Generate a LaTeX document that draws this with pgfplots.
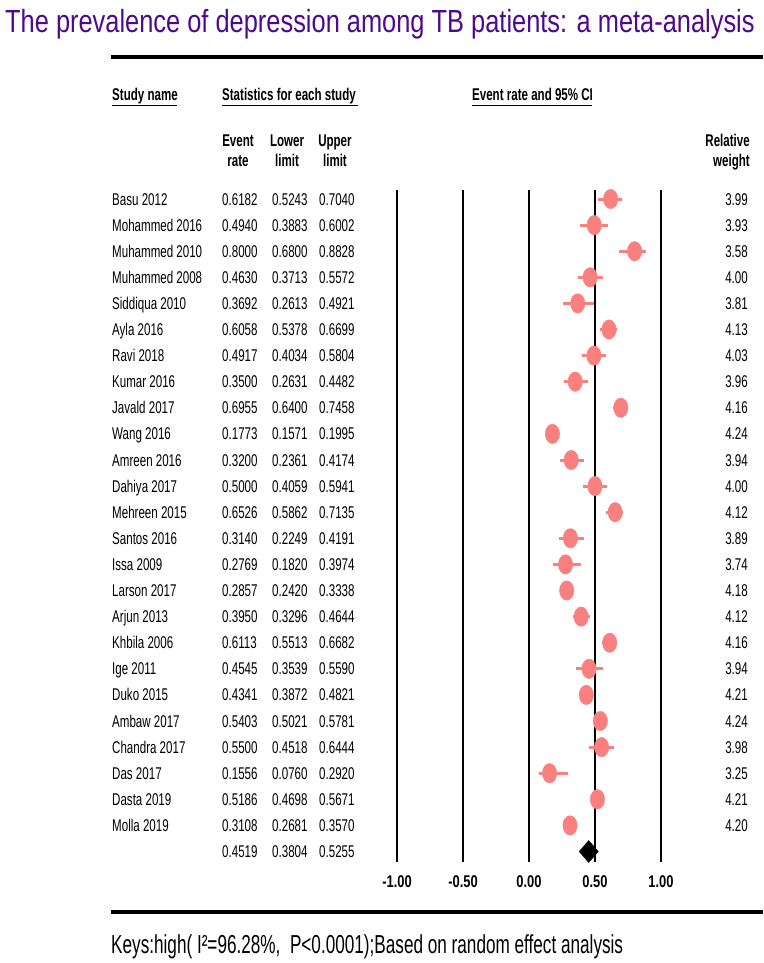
\documentclass[border=0pt]{standalone}
\usepackage{fontspec}
\setmainfont{Liberation Sans}[FakeStretch=0.68]
\newfontfamily\titlefont{Liberation Sans}[FakeStretch=0.794]
\newfontfamily\footfont{Liberation Sans}[FakeStretch=0.66]
\newfontfamily\tickfont{Liberation Sans}[FakeStretch=0.76]
\usepackage{pgfplots}
\usepackage{pgfplotstable}
\pgfplotsset{compat=1.18}

\definecolor{dotpink}{RGB}{250,128,128}
\definecolor{titlepurple}{RGB}{78,10,140}

% row, study, event rate, lower, upper, relative weight
\pgfplotstableread[col sep=comma]{
row,name,er,lo,hi,w
1,Basu 2012,0.6182,0.5243,0.7040,3.99
2,Mohammed 2016,0.4940,0.3883,0.6002,3.93
3,Muhammed 2010,0.8000,0.6800,0.8828,3.58
4,Muhammed 2008,0.4630,0.3713,0.5572,4.00
5,Siddiqua 2010,0.3692,0.2613,0.4921,3.81
6,Ayla 2016,0.6058,0.5378,0.6699,4.13
7,Ravi 2018,0.4917,0.4034,0.5804,4.03
8,Kumar 2016,0.3500,0.2631,0.4482,3.96
9,Javald 2017,0.6955,0.6400,0.7458,4.16
10,Wang 2016,0.1773,0.1571,0.1995,4.24
11,Amreen 2016,0.3200,0.2361,0.4174,3.94
12,Dahiya 2017,0.5000,0.4059,0.5941,4.00
13,Mehreen 2015,0.6526,0.5862,0.7135,4.12
14,Santos 2016,0.3140,0.2249,0.4191,3.89
15,Issa 2009,0.2769,0.1820,0.3974,3.74
16,Larson 2017,0.2857,0.2420,0.3338,4.18
17,Arjun 2013,0.3950,0.3296,0.4644,4.12
18,Khbila 2006,0.6113,0.5513,0.6682,4.16
19,Ige 2011,0.4545,0.3539,0.5590,3.94
20,Duko 2015,0.4341,0.3872,0.4821,4.21
21,Ambaw 2017,0.5403,0.5021,0.5781,4.24
22,Chandra 2017,0.5500,0.4518,0.6444,3.98
23,Das 2017,0.1556,0.0760,0.2920,3.25
24,Dasta 2019,0.5186,0.4698,0.5671,4.21
25,Molla 2019,0.3108,0.2681,0.3570,4.20
}\studies

\begin{document}
\begin{tikzpicture}[font=\fontsize{17}{21}\selectfont]
\begin{axis}[
 width=763pt, height=963pt, scale only axis,
 xmin=-4.00758, xmax=1.77273,
 ymin=-6.6245, ymax=30.272, y dir=reverse,
 axis lines=none, clip=false,
 txt/.style={draw=none, mark=none, nodes near coords, point meta=explicit symbolic,
   every node near coord/.style={inner sep=0pt, text height=12pt, text depth=0pt, black, #1}},
]
% reference lines
\pgfplotsinvokeforeach{-1,-0.5,0,0.5,1}{
 \addplot[black, line width=1.6pt] coordinates {(#1,0.655) (#1,26.405)};
}
% confidence intervals
\addplot[draw=none, mark=none, error bars/.cd, x dir=both, x explicit, error mark=none,
 error bar style={draw=dotpink, line width=3pt}]
 table[x=er, y=row, x error plus expr=\thisrow{hi}-\thisrow{er},
  x error minus expr=\thisrow{er}-\thisrow{lo}] {\studies};
% point estimates
\addplot[only marks, mark=*, mark size=7.2pt,
 mark options={draw=dotpink, fill=dotpink, yscale=1.35}] table[x=er, y=row] {\studies};
% pooled estimate
\addplot[fill=black, draw=black] coordinates {(0.3804,26) (0.4519,25.58) (0.5255,26) (0.4519,26.42)} -- cycle;

% table columns
\addplot[txt={anchor=west}] table[x expr=-3.159, y=row, meta=name] {\studies};
\addplot[txt={anchor=west}] table[x expr=-2.3258, y=row, meta=er] {\studies};
\addplot[txt={anchor=west}] table[x expr=-1.947, y=row, meta=lo] {\studies};
\addplot[txt={anchor=west}] table[x expr=-1.591, y=row, meta=hi] {\studies};
\addplot[txt={anchor=east}] table[x expr=1.659, y=row, meta=w] {\studies};
\addplot[txt={anchor=west}] coordinates {(-2.3258,26) [0.4519] (-1.947,26) [0.3804] (-1.591,26) [0.5255]};

% rules
\addplot[black, line width=3.5pt] coordinates {(-3.1667,-4.441) (1.7727,-4.441)};
\addplot[black, line width=3.5pt] coordinates {(-3.1667,28.315) (1.7727,28.315)};
\addplot[black, line width=0.8pt] coordinates {(-3.159,-2.601) (-2.667,-2.601)};
\addplot[black, line width=0.8pt] coordinates {(-2.326,-2.601) (-1.295,-2.601)};
\addplot[black, line width=0.8pt] coordinates {(-0.432,-2.601) (0.477,-2.601)};

% title, headers, ticks, footer
\node[anchor=west, inner sep=0pt, text height=23pt, text depth=0pt, text=titlepurple,
 font=\titlefont\fontsize{32}{36}\selectfont] at (axis cs:-3.9697,-5.801)
 {The prevalence of depression among TB patients: a meta-analysis};
\begin{scope}[every node/.style={inner sep=0pt, text height=12pt, text depth=0pt,
  font=\fontsize{17}{21}\selectfont\bfseries}]
\node[anchor=west] at (axis cs:-3.159,-3.004) {Study name};
\node[anchor=west] at (axis cs:-2.326,-3.004) {Statistics for each study};
\node[anchor=west] at (axis cs:-0.432,-3.004) {Event rate and 95\% CI};
\node at (axis cs:-2.2045,-1.260) {Event};
\node at (axis cs:-2.2045,-0.456) {rate};
\node at (axis cs:-1.833,-1.260) {Lower};
\node at (axis cs:-1.833,-0.456) {limit};
\node at (axis cs:-1.470,-1.260) {Upper};
\node at (axis cs:-1.470,-0.456) {limit};
\node[anchor=east] at (axis cs:1.674,-1.260) {Relative};
\node[anchor=east] at (axis cs:1.674,-0.456) {weight};
\end{scope}
\begin{scope}[every node/.style={inner sep=0pt, text height=12pt, text depth=0pt,
  font=\tickfont\fontsize{17}{21}\selectfont\bfseries}]
\node at (axis cs:-1,27.145) {-1.00};
\node at (axis cs:-0.5,27.145) {-0.50};
\node at (axis cs:0,27.145) {0.00};
\node at (axis cs:0.5,27.145) {0.50};
\node at (axis cs:1,27.145) {1.00};
\end{scope}
\node[anchor=west, inner sep=0pt, text height=19pt, text depth=0pt,
 font=\footfont\fontsize{26}{30}\selectfont] at (axis cs:-3.1667,29.525)
 {Keys:high( I²=96.28\%,\ \ P<0.0001);Based on random effect analysis};
\end{axis}
\pgfresetboundingbox
\path[use as bounding box] (current axis.south west) rectangle (current axis.north east);
\end{tikzpicture}
\end{document}
